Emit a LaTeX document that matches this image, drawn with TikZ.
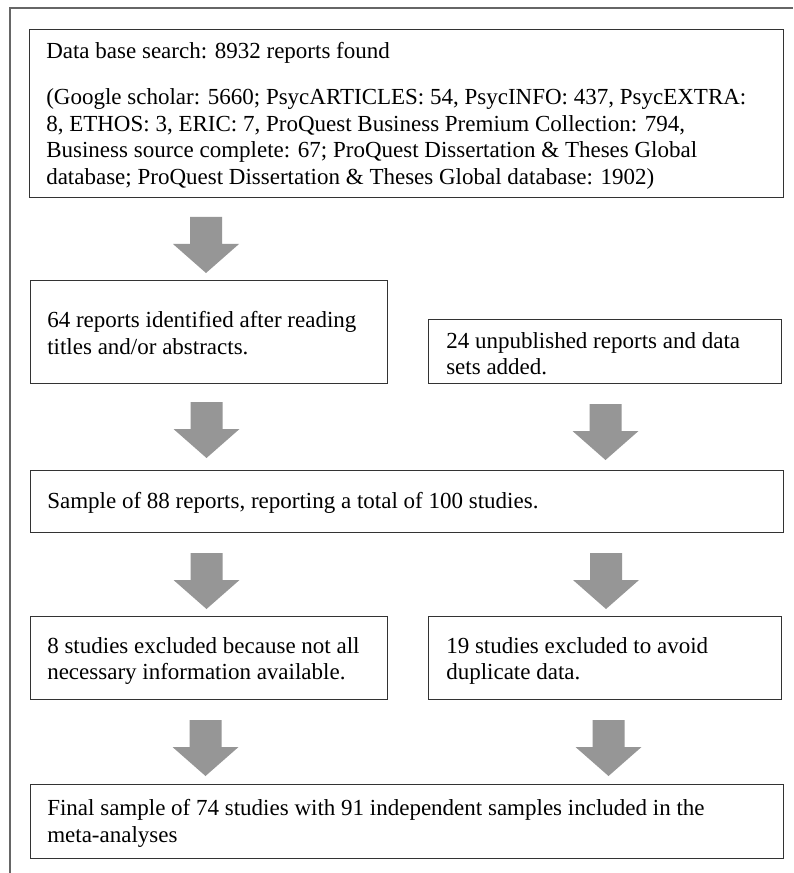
\documentclass[tikz,border=0pt]{standalone}
\usepackage{fontspec}
\setmainfont{Liberation Serif}
\begin{document}
\begin{tikzpicture}[x=0.75pt,y=-0.75pt,
  box/.style={draw=boxline,line width=1pt,inner sep=0pt,anchor=north west},
  txt/.style={anchor=north west,inner sep=0pt,align=left,text=black,font=\fontsize{17.25}{20}\selectfont},
  blockarrow/.pic={\fill[arrowgray] (-16,0) -- (16,0) -- (16,27) -- (33,27) -- (0,56) -- (-33,27) -- (-16,27) -- cycle;}
]
\definecolor{boxline}{HTML}{333333}
\definecolor{arrowgray}{HTML}{969696}
\definecolor{framegray}{HTML}{666666}
\useasboundingbox (0,0) rectangle (793,873);
\fill[white] (0,0) rectangle (793,873);
% outer frame (left and top edges)
\coordinate (fbl) at (10,873);
\coordinate (ftl) at (10,8);
\coordinate (ftr) at (793,8);
\draw[framegray,line width=1.5pt] (fbl) -- (ftl) -- (ftr);
% boxes
\node[box,minimum width=565.5pt,minimum height=126pt] (b1) at (29,29) {};
\node[box,minimum width=267.75pt,minimum height=77.25pt] (b2) at (30,280) {};
\node[box,minimum width=264.75pt,minimum height=48pt] (b3) at (428,319) {};
\node[box,minimum width=564.75pt,minimum height=46.5pt] (b4) at (30,470) {};
\node[box,minimum width=267.75pt,minimum height=62.25pt] (b5) at (30,616) {};
\node[box,minimum width=264.75pt,minimum height=62.25pt] (b6) at (428,616) {};
\node[box,minimum width=564.75pt,minimum height=55.5pt] (b7) at (30,784) {};
% texts
\node[txt] (t1) at ([shift={(17,13)}]b1.north west) {Data base search: 8932 reports found\\[14.5pt]
(Google scholar: 5660; PsycARTICLES: 54, PsycINFO: 437, PsycEXTRA:\\
8, ETHOS: 3, ERIC: 7, ProQuest Business Premium Collection: 794,\\
Business source complete: 67; ProQuest Dissertation \& Theses Global\\
database; ProQuest Dissertation \& Theses Global database: 1902)};
\node[txt] (t2) at ([shift={(17,31)}]b2.north west) {64 reports identified after reading\\titles and/or abstracts.};
\node[txt] (t3) at ([shift={(18,13)}]b3.north west) {24 unpublished reports and data\\sets added.};
\node[txt] (t4) at ([shift={(17,22)}]b4.north west) {Sample of 88 reports, reporting a total of 100 studies.};
\node[txt] (t5) at ([shift={(17,21)}]b5.north west) {8 studies excluded because not all\\necessary information available.};
\node[txt] (t6) at ([shift={(18,21)}]b6.north west) {19 studies excluded to avoid\\duplicate data.};
\node[txt] (t7) at ([shift={(17,15)}]b7.north west) {Final sample of 74 studies with 91 independent samples included in the\\meta-analyses};
% block arrows
\pic at (206,217) {blockarrow};
\pic at (206.5,402) {blockarrow};
\pic at (605.5,404) {blockarrow};
\pic at (206.5,553) {blockarrow};
\pic at (606,553) {blockarrow};
\pic at (205.5,720) {blockarrow};
\pic at (608.5,720) {blockarrow};
\end{tikzpicture}
\end{document}
